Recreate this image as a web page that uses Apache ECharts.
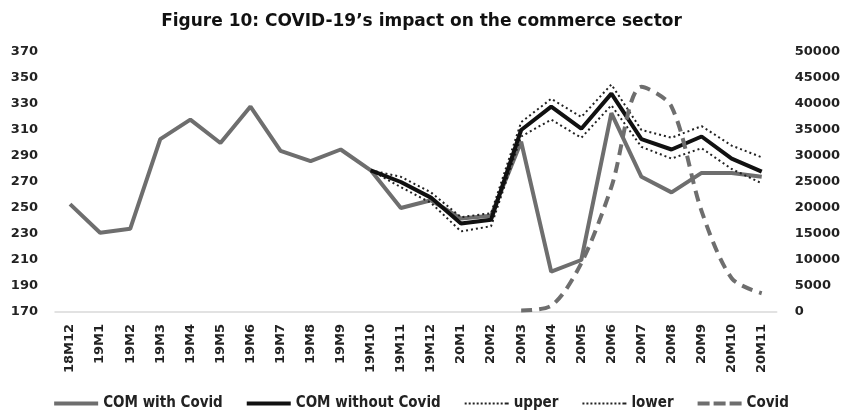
<!DOCTYPE html>
<html>
<head>
<meta charset="utf-8">
<script src="https://cdn.jsdelivr.net/npm/echarts@6/dist/echarts.min.js"></script>
<style>
html, body { margin: 0; padding: 0; background: #fff; }
#chart { width: 843px; height: 419px; }
</style>
</head>
<body>
<div id="chart"></div>
<script>
var months = ['18M12', '19M1', '19M2', '19M3', '19M4', '19M5', '19M6', '19M7', '19M8', '19M9', '19M10', '19M11',
  '19M12', '20M1', '20M2', '20M3', '20M4', '20M5', '20M6', '20M7', '20M8', '20M9', '20M10', '20M11'];

// left axis series
var withCovid = [253, 231, 234, 303, 318, 300, 328, 294, 286, 295, 279, 250,
  256, 242, 244, 301, 201, 210, 323, 274, 262, 277, 277, 274];
var withoutCovid = [null, null, null, null, null, null, null, null, null, null, 279, 270,
  258, 238, 241, 310, 328, 311, 338, 303, 295, 305, 288, 278];
var upper = [null, null, null, null, null, null, null, null, null, null, 279, 274,
  262, 243, 246, 316, 334, 320, 345, 310, 304, 313, 298, 289];
var lower = [null, null, null, null, null, null, null, null, null, null, 279, 266,
  254, 232, 236, 305, 318, 304, 329, 297, 288, 296, 280, 269];

// right axis series
var covid = [null, null, null, null, null, null, null, null, null, null, null, null,
  null, null, null, 300, 1200, 9400, 24000, 43300, 39500, 19400, 6500, 3600];

// legend icons (line samples)
var solidIcon = 'path://M0,0H44V4H0Z';
var dashIcon = 'path://M0,0H12V4H0ZM16,0H28V4H16ZM32,0H44V4H32Z';
var dotIcon = 'path://';
for (var i = 0; i < 11; i++) {
  dotIcon += 'M' + (i * 4) + ',0H' + (i * 4 + 2) + 'V2H' + (i * 4) + 'Z';
}
dotIcon += 'M42,0H44V2H42Z';

var chart = echarts.init(document.getElementById('chart'));

var axisFont = { fontFamily: 'DejaVu Sans', fontWeight: 'bold', fontSize: 13, color: '#222' };

chart.setOption({
  animation: false,
  title: {
    text: 'Figure 10: COVID-19\u2019s impact on the commerce sector',
    left: 'center',
    top: 8,
    textStyle: { fontFamily: 'DejaVu Sans', fontWeight: 'bold', fontSize: 17, color: '#111' }
  },
  legend: {
    bottom: 3,
    left: 'center',
    itemWidth: 44,
    itemHeight: 12,
    itemGap: 24,
    textStyle: { fontFamily: '"DejaVu Sans Condensed", "Liberation Sans", sans-serif', fontWeight: 'bold', fontSize: 15, color: '#222' },
    data: [
      { name: 'COM with Covid', icon: solidIcon },
      { name: 'COM without Covid', icon: solidIcon },
      { name: 'upper', icon: dotIcon },
      { name: 'lower', icon: dotIcon },
      { name: 'Covid', icon: dashIcon }
    ]
  },
  grid: { left: 55, right: 62, top: 52, bottom: 107 },
  xAxis: {
    type: 'category',
    data: months,
    axisLine: { lineStyle: { color: '#d9d9d9', width: 1.5 } },
    axisTick: { show: false },
    axisLabel: Object.assign({ rotate: 90, interval: 0, margin: 12 }, axisFont)
  },
  yAxis: [{
    type: 'value',
    min: 170,
    max: 370,
    interval: 20,
    splitLine: { show: false },
    axisLine: { show: false },
    axisTick: { show: false },
    axisLabel: Object.assign({ margin: 17, fontSize: 14 }, axisFont)
  }, {
    type: 'value',
    min: 0,
    max: 50000,
    interval: 5000,
    splitLine: { show: false },
    axisLine: { show: false },
    axisTick: { show: false },
    axisLabel: Object.assign({ margin: 18, fontSize: 14, formatter: function (v) { return String(v); } }, axisFont)
  }],
  series: [{
    name: 'COM with Covid',
    type: 'line',
    data: withCovid,
    symbol: 'none',
    z: 2,
    itemStyle: { color: '#6e6e6e' },
    lineStyle: { color: '#6e6e6e', width: 4 }
  }, {
    name: 'COM without Covid',
    type: 'line',
    data: withoutCovid,
    symbol: 'none',
    z: 4,
    itemStyle: { color: '#111' },
    lineStyle: { color: '#111', width: 4 }
  }, {
    name: 'upper',
    type: 'line',
    data: upper,
    symbol: 'none',
    z: 3,
    itemStyle: { color: '#222' },
    lineStyle: { color: '#222', width: 2, type: [2, 3] }
  }, {
    name: 'lower',
    type: 'line',
    data: lower,
    symbol: 'none',
    z: 3,
    itemStyle: { color: '#222' },
    lineStyle: { color: '#222', width: 2, type: [2, 3] }
  }, {
    name: 'Covid',
    type: 'line',
    yAxisIndex: 1,
    data: covid,
    symbol: 'none',
    smooth: 0.3,
    z: 5,
    itemStyle: { color: '#6e6e6e' },
    lineStyle: { color: '#6e6e6e', width: 4, type: [11, 7] }
  }]
});
</script>
</body>
</html>
